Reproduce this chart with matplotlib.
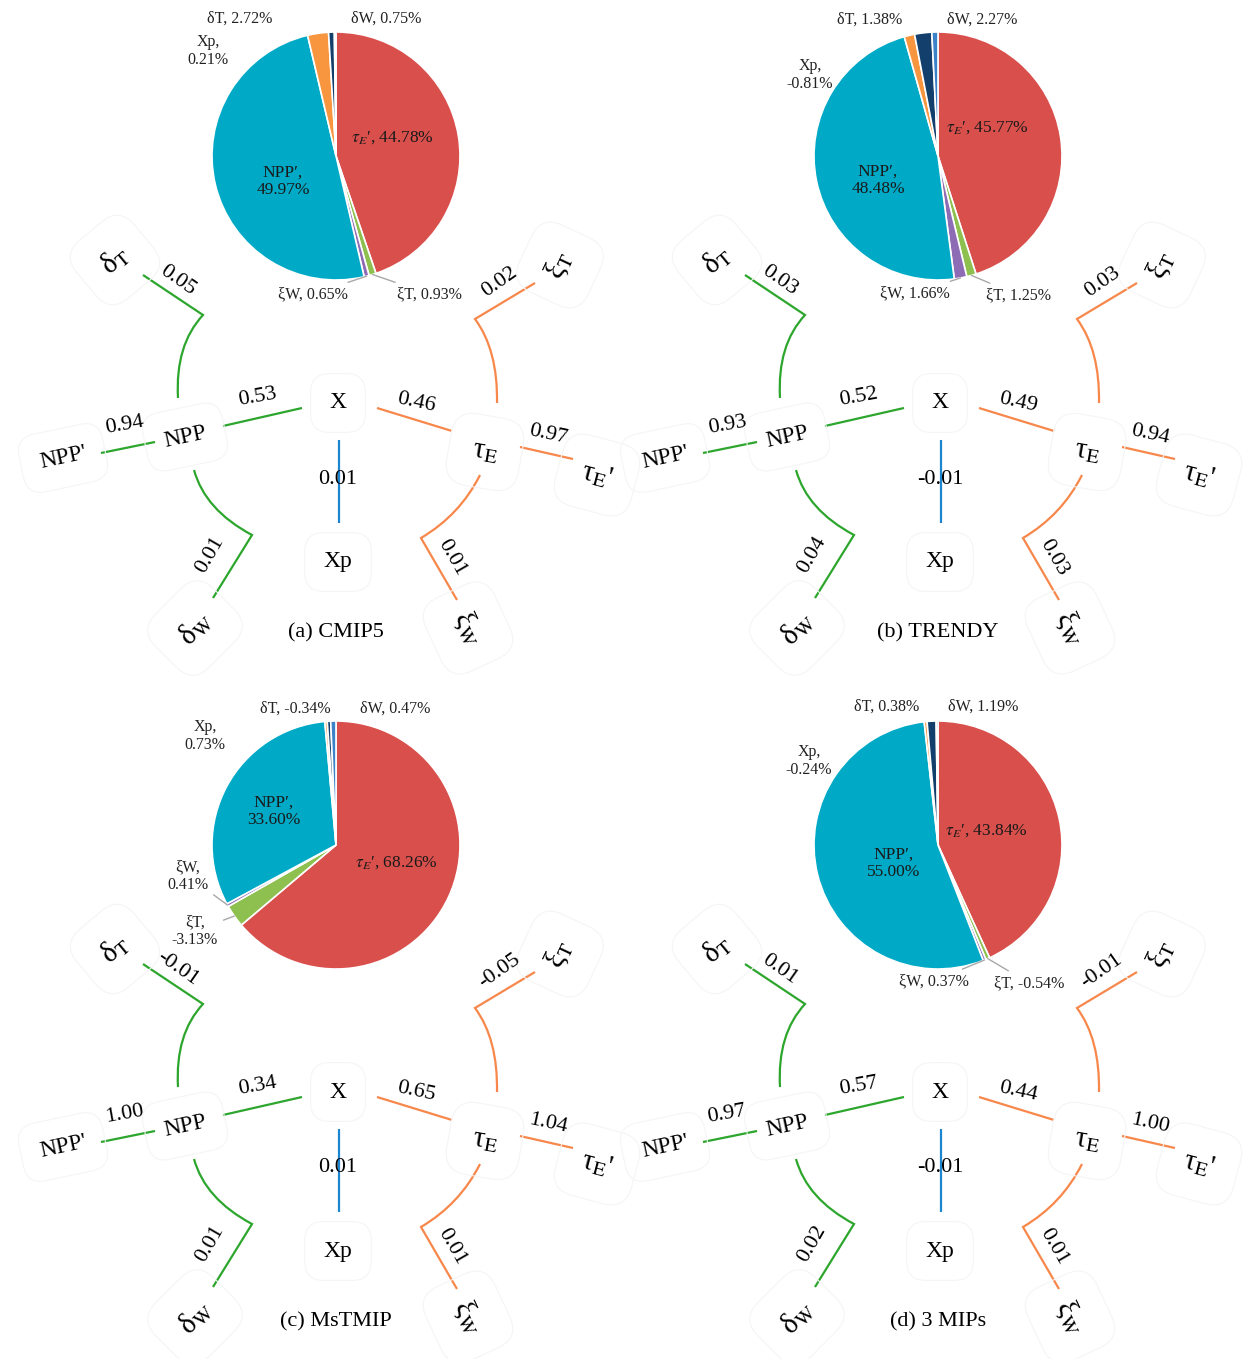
import numpy as np
import matplotlib.pyplot as plt
from matplotlib.path import Path
from matplotlib.patches import PathPatch

plt.rcParams['font.family'] = ['Liberation Serif', 'DejaVu Serif']
plt.rcParams['mathtext.fontset'] = 'stix'

# ---- data ----
captions = ["(a) CMIP5", "(b) TRENDY", "(c) MsTMIP", "(d) 3 MIPs"]

# pie slices, clockwise from 12 o'clock
slice_names = ["tauE'", "xiT", "xiW", "NPP'", "deltaT", "deltaW", "Xp"]
cmip5_pct = [44.78, 0.93, 0.65, 49.97, 2.72, 0.75, 0.21]
trendy_pct = [45.77, 1.25, 1.66, 48.48, 1.38, 2.27, -0.81]
mstmip_pct = [68.26, -3.13, 0.41, 33.60, -0.34, 0.47, 0.73]
mips3_pct = [43.84, -0.54, 0.37, 55.00, 0.38, 1.19, -0.24]
pie_values = [cmip5_pct, trendy_pct, mstmip_pct, mips3_pct]

# path coefficients on the tree edges
edge_names = ["X-NPP", "NPP-NPP'", "NPP-dT", "NPP-dW", "X-tE", "tE-tE'", "tE-xT", "tE-xW", "X-Xp"]
cmip5_w = [0.53, 0.94, 0.05, 0.01, 0.46, 0.97, 0.02, 0.01, 0.01]
trendy_w = [0.52, 0.93, 0.03, 0.04, 0.49, 0.94, 0.03, 0.03, -0.01]
mstmip_w = [0.34, 1.00, -0.01, 0.01, 0.65, 1.04, -0.05, 0.01, 0.01]
mips3_w = [0.57, 0.97, 0.01, 0.02, 0.44, 1.00, -0.01, 0.01, -0.01]
edge_values = [cmip5_w, trendy_w, mstmip_w, mips3_w]

# ---- styles / layout (pixels) ----
W, H = 1245, 1359
slice_colors = ['#D84F4B', '#8DC04F', '#8E6BB5', '#00AAC6', '#F7963F', '#123F6B', '#3C82C8']
pie_text = {"tauE'": r"$\tau_E$′", "xiT": "ξT", "xiW": "ξW", "NPP'": "NPP′",
            "deltaT": "δT", "deltaW": "δW", "Xp": "Xp"}
GREEN, ORANGE, BLUE = '#2DA62D', '#F7874A', '#1C86D0'

origins = [(338, 403), (940, 403), (338, 1092), (940, 1092)]   # position of node X
PIE_OFF, R = (-2, -247), 124

nodes = {  # label, dx, dy, rotation, fontsize
    'X': ("X", 0, 0, 0, 17),
    'NPP': ("NPP", -153, 34, 12, 17),
    "NPP'": ("NPP'", -275, 55, 12, 17),
    'tE': ("τ$_\\mathrm{E}$", 147, 49, -10, 21),
    "tE'": ("τ$_\\mathrm{E}$'", 259, 72, -15, 21),
    'Xp': ("Xp", 0, 159, 0, 17),
    'dT': ("δ$_\\mathrm{T}$", -223, -143, 40, 21),
    'dW': ("δ$_\\mathrm{W}$", -143, 225, 45, 21),
    'xT': ("ξ$_\\mathrm{T}$", 222, -138, 65, 21),
    'xW': ("ξ$_\\mathrm{W}$", 130, 225, -65, 21),
}

# geometry of each edge and where its number sits (dx, dy, rotation)
edges = [
    (GREEN, [(-36, 5), (-115, 23)], (-81, -6, 10)),
    (GREEN, [(-183, 39), (-237, 50)], (-213, 22, 10)),
    (GREEN, [(-160, -5), (-163, -58), (-135, -88), (-195, -128)], (-160, -123, -35)),
    (GREEN, [(-144, 67), (-133, 107), (-86, 132), (-125, 195)], (-128, 152, 60)),
    (ORANGE, [(39, 5), (114, 28)], (78, 0, -12)),
    (ORANGE, [(182, 44), (235, 56)], (210, 32, -12)),
    (ORANGE, [(159, 0), (160, -53), (137, -84), (197, -120)], (162, -121, 35)),
    (ORANGE, [(142, 72), (122, 112), (83, 135), (119, 197)], (114, 155, -60)),
    (BLUE, [(1, 37), (1, 120)], (0, 76, 0)),
]

# pie label offsets from pie centre: dx, dy, two lines?
pie_labels = [
    {"tauE'": (56, -18, 0), "xiT": (93, 138, 0), "xiW": (-23, 138, 0), "NPP'": (-53, 25, 1),
     "deltaT": (-96, -137, 0), "deltaW": (50, -137, 0), "Xp": (-128, -105, 1)},
    {"tauE'": (49, -28, 0), "xiT": (80, 139, 0), "xiW": (-23, 137, 0), "NPP'": (-60, 24, 1),
     "deltaT": (-68, -136, 0), "deltaW": (44, -136, 0), "Xp": (-128, -81, 1)},
    {"tauE'": (60, 18, 0), "xiT": (-141, 86, 1), "xiW": (-148, 31, 1), "NPP'": (-62, -34, 1),
     "deltaT": (-41, -136, 0), "deltaW": (59, -136, 0), "Xp": (-131, -109, 1)},
    {"tauE'": (48, -14, 0), "xiT": (91, 138, 0), "xiW": (-4, 136, 0), "NPP'": (-44, 18, 1),
     "deltaT": (-51, -138, 0), "deltaW": (45, -138, 0), "Xp": (-129, -84, 1)},
]
leaders = ["xiT", "xiW"]

fig = plt.figure(figsize=(W / 100, H / 100), dpi=100)
ax = fig.add_axes([0, 0, 1, 1])
ax.set_xlim(0, W)
ax.set_ylim(H, 0)
ax.axis('off')

for k in range(4):
    ox, oy = origins[k]

    # tree
    for (col, pts, (lx, ly, lr)), w in zip(edges, edge_values[k]):
        p = [(ox + a, oy + b) for a, b in pts]
        if len(p) == 2:
            ax.plot([p[0][0], p[1][0]], [p[0][1], p[1][1]], color=col, lw=1.6, solid_capstyle='butt')
        else:
            path = Path(p, [Path.MOVETO, Path.CURVE3, Path.CURVE3, Path.LINETO])
            ax.add_patch(PathPatch(path, fc='none', ec=col, lw=1.6))
        ax.text(ox + lx, oy + ly, f"{w:.2f}", fontsize=16, rotation=lr,
                ha='center', va='center', rotation_mode='anchor', zorder=5)

    for key, (lab, dx, dy, rot, fs) in nodes.items():
        ax.text(ox + dx, oy + dy, lab, fontsize=fs, rotation=rot, ha='center', va='center',
                rotation_mode='anchor',
                bbox=dict(boxstyle='round,pad=0.8', fc='none', ec='#f5f5f5', lw=0.8))

    ax.text(ox - 2, oy + 230, captions[k], fontsize=16, ha='center', va='center')

    # pie
    cx, cy = ox + PIE_OFF[0], oy + PIE_OFF[1]
    pax = fig.add_axes([(cx - R) / W, 1 - (cy + R) / H, 2 * R / W, 2 * R / H])
    vals = np.abs(pie_values[k])
    pax.pie(vals, colors=slice_colors, startangle=90, counterclock=False, radius=1,
            wedgeprops=dict(ec='white', lw=1.2))
    pax.set_xlim(-1, 1)
    pax.set_ylim(-1, 1)
    pax.axis('off')

    frac = vals / vals.sum()
    cum = np.cumsum(frac) - frac / 2
    for i, name in enumerate(slice_names):
        dx, dy, two = pie_labels[k][name]
        sep = ",\n" if two else ", "
        txt = f"{pie_text[name]}{sep}{pie_values[k][i]:.2f}%"
        inside = name in ("tauE'", "NPP'")
        tx, ty = dx / R, -dy / R
        if name in leaders:
            ang = np.deg2rad(90 - 360 * cum[i])
            pax.annotate(txt, xy=(np.cos(ang), np.sin(ang)), xytext=(tx, ty),
                         fontsize=11.5, ha='center', va='center', color='#222222',
                         arrowprops=dict(arrowstyle='-', color='#a8a8a8', lw=1,
                                         shrinkA=2, shrinkB=0))
        else:
            pax.text(tx, ty, txt, fontsize=12.5 if inside else 11.5, ha='center', va='center',
                     color='#1a1a1a' if inside else '#222222', linespacing=1.1)

fig.savefig("out.png", dpi=100)
